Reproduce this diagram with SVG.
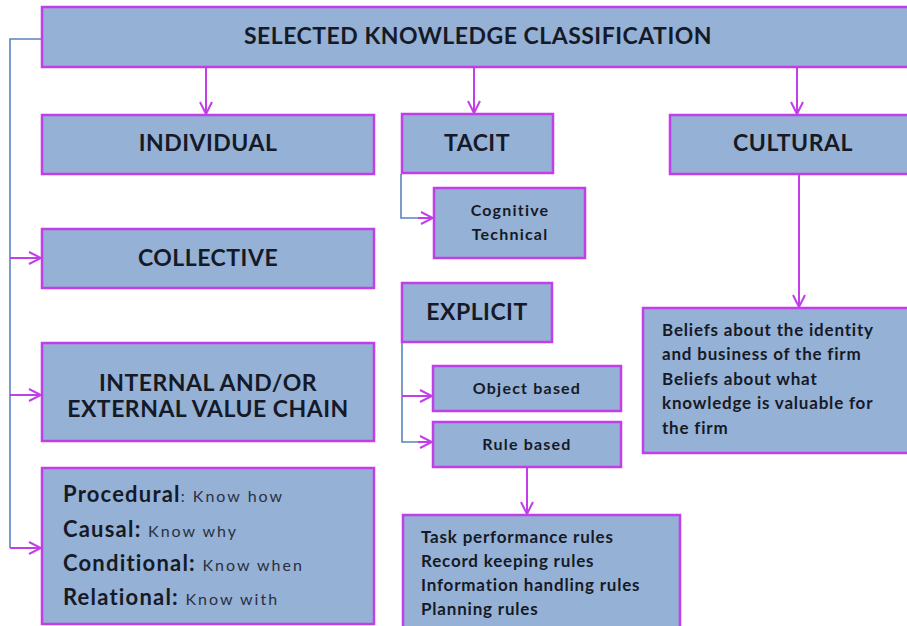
<svg xmlns="http://www.w3.org/2000/svg" width="907" height="626" viewBox="0 0 907 626">
  <defs>
    <marker id="vhead" markerWidth="14" markerHeight="14" viewBox="0 0 14 14" refX="13" refY="7" orient="auto" markerUnits="userSpaceOnUse">
      <polyline points="1,1 13,7 1,13" fill="none" stroke="#c23ee8" stroke-width="2"/>
    </marker>
    <style>
      .box { fill: #95b1d6; stroke: #c23ee8; stroke-width: 2.5; }
      .t { font-family: Lato, "Liberation Sans", sans-serif; font-weight: bold; fill: #161a26; }
      .h { font-size: 23px; letter-spacing: 0.5px; text-anchor: middle; }
      .s { font-size: 16px; letter-spacing: 1.2px; text-anchor: middle; }
      .p { font-size: 17px; letter-spacing: 0.8px; }
      .k { font-size: 22px; letter-spacing: 1.2px; }
      .kn { font-size: 16px; letter-spacing: 2px; font-weight: normal; fill: #2a3040; }
      .arrow { stroke: #c23ee8; stroke-width: 2; fill: none; marker-end: url(#vhead); }
      .tie { stroke: #5a84bd; stroke-width: 1.6; fill: none; }
    </style>
  </defs>
  <rect width="907" height="626" fill="#ffffff"/>

  <!-- connectors -->
  <g id="connectors">
    <polyline class="tie" points="42,39 10,39 10,548"/>
    <line class="arrow" x1="10" y1="258" x2="41" y2="258"/>
    <line class="arrow" x1="10" y1="395" x2="41" y2="395"/>
    <line class="arrow" x1="10" y1="548" x2="41" y2="548"/>
    <line class="arrow" x1="206" y1="67" x2="206" y2="114"/>
    <line class="arrow" x1="474" y1="67" x2="474" y2="113"/>
    <line class="arrow" x1="797" y1="67" x2="797" y2="114"/>
    <line class="arrow" x1="799" y1="174" x2="799" y2="307"/>
    <polyline class="tie" points="401,174 401,218 420,218"/>
    <line class="arrow" x1="418" y1="218" x2="433" y2="218"/>
    <polyline class="tie" points="402,342 402,442 420,442"/>
    <line class="arrow" x1="402" y1="396" x2="432" y2="396"/>
    <line class="arrow" x1="418" y1="442" x2="432" y2="442"/>
    <line class="arrow" x1="527" y1="467" x2="527" y2="514"/>
  </g>

  <g id="root">
    <rect class="box" x="42" y="7" width="870" height="60"/>
    <text class="t h" x="478" y="44">SELECTED KNOWLEDGE CLASSIFICATION</text>
  </g>

  <g id="individual">
    <rect class="box" x="42" y="115" width="332" height="59"/>
    <text class="t h" x="208" y="151">INDIVIDUAL</text>
  </g>

  <g id="collective">
    <rect class="box" x="42" y="229" width="332" height="59"/>
    <text class="t h" x="208" y="266">COLLECTIVE</text>
  </g>

  <g id="value-chain">
    <rect class="box" x="42" y="343" width="332" height="98"/>
    <text class="t h" x="208" y="391">INTERNAL AND/OR</text>
    <text class="t h" x="208" y="417">EXTERNAL VALUE CHAIN</text>
  </g>

  <g id="types">
    <rect class="box" x="42" y="468" width="332" height="156"/>
    <text class="t p" x="63" y="502"><tspan class="k">Procedural</tspan><tspan class="kn">: Know how</tspan></text>
    <text class="t p" x="63" y="537"><tspan class="k">Causal: </tspan><tspan class="kn">Know why</tspan></text>
    <text class="t p" x="63" y="571"><tspan class="k">Conditional: </tspan><tspan class="kn">Know when</tspan></text>
    <text class="t p" x="63" y="605"><tspan class="k">Relational: </tspan><tspan class="kn">Know with</tspan></text>
  </g>

  <g id="tacit">
    <rect class="box" x="402" y="114" width="151" height="59"/>
    <text class="t h" x="477" y="151">TACIT</text>
  </g>

  <g id="tacit-kinds">
    <rect class="box" x="434" y="188" width="151" height="70"/>
    <text class="t s" x="510" y="216">Cognitive</text>
    <text class="t s" x="510" y="240">Technical</text>
  </g>

  <g id="explicit">
    <rect class="box" x="402" y="283" width="150" height="59"/>
    <text class="t h" x="477" y="320">EXPLICIT</text>
  </g>

  <g id="object-based">
    <rect class="box" x="433" y="366" width="188" height="45"/>
    <text class="t s" x="527" y="394">Object based</text>
  </g>

  <g id="rule-based">
    <rect class="box" x="433" y="422" width="188" height="45"/>
    <text class="t s" x="527" y="450">Rule based</text>
  </g>

  <g id="rules">
    <rect class="box" x="403" y="515" width="277" height="120"/>
    <text class="t p" x="421" y="543">Task performance rules</text>
    <text class="t p" x="421" y="567">Record keeping rules</text>
    <text class="t p" x="421" y="591">Information handling rules</text>
    <text class="t p" x="421" y="615">Planning rules</text>
  </g>

  <g id="cultural">
    <rect class="box" x="670" y="115" width="240" height="59"/>
    <text class="t h" x="793" y="151">CULTURAL</text>
  </g>

  <g id="beliefs">
    <rect class="box" x="643" y="308" width="270" height="145"/>
    <text class="t p" x="662" y="336">Beliefs about the identity</text>
    <text class="t p" x="662" y="360">and business of the firm</text>
    <text class="t p" x="662" y="385">Beliefs about what</text>
    <text class="t p" x="662" y="409">knowledge is valuable for</text>
    <text class="t p" x="662" y="434">the firm</text>
  </g>
</svg>
